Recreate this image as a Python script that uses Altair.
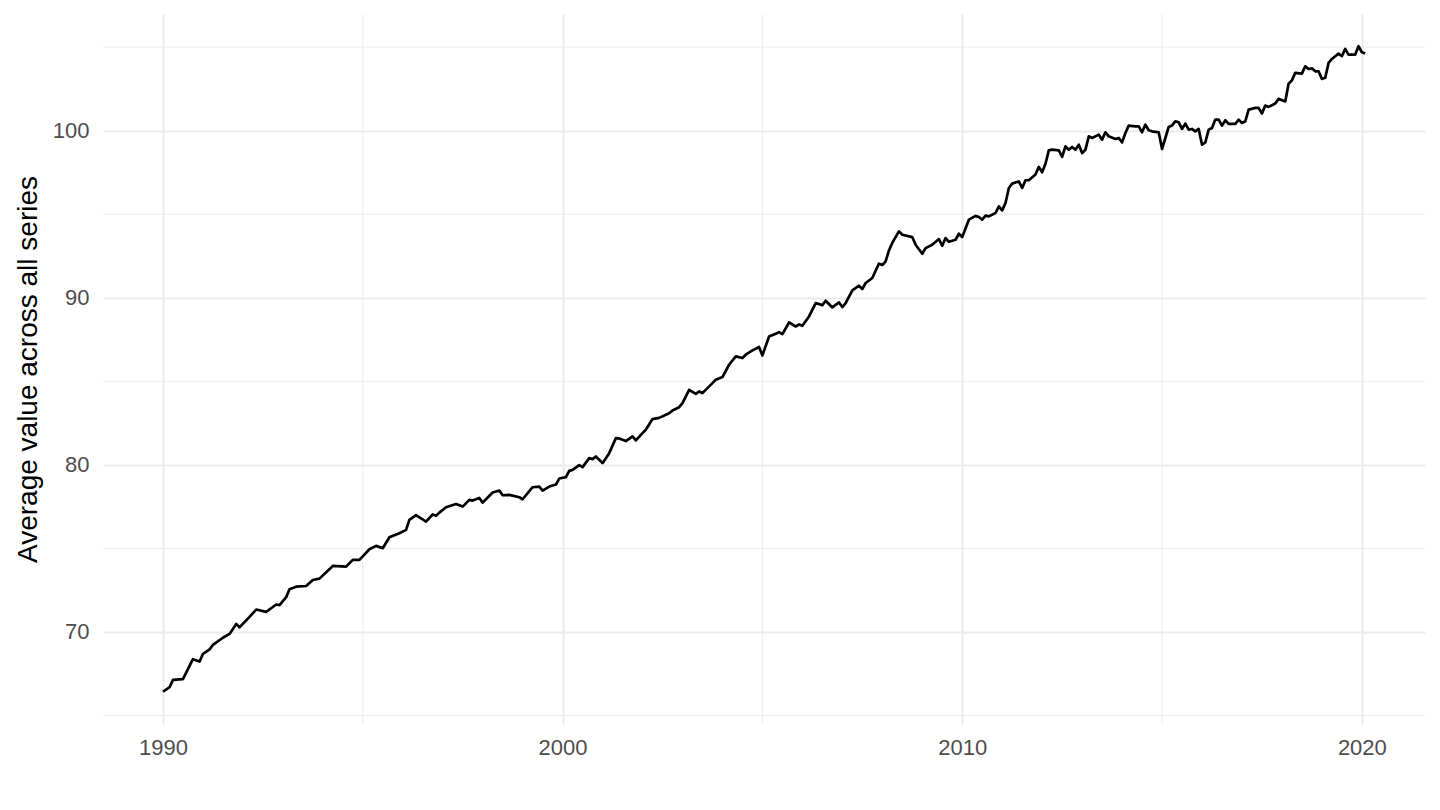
import altair as alt
import pandas as pd

# month index (months since 1990-01) and value
month_idx = [0, 2, 3, 6, 9, 11, 12, 14, 15, 18, 20, 22, 23, 26, 28, 31, 34, 35, 37, 38,
             40, 43, 45, 47, 51, 55, 57, 59, 62, 64, 66, 68, 71, 73, 74, 76, 79, 81, 82, 83,
             85, 88, 90, 92, 93, 95, 96, 99, 101, 102, 104, 107, 108, 111, 113, 114, 116, 118, 119, 121,
             122, 123, 125, 126, 128, 129, 130, 132, 134, 136, 137, 139, 141, 142, 144, 145, 147, 149, 152, 153,
             155, 156, 158, 160, 161, 162, 165, 166, 168, 170, 172, 174, 175, 177, 179, 180, 182, 184, 185, 186,
             188, 190, 191, 192, 194, 196, 198, 199, 201, 203, 204, 205, 207, 209, 210, 211, 213, 215, 216, 217,
             218, 219, 221, 222, 225, 226, 228, 229, 231, 233, 234, 235, 236, 238, 239, 240, 242, 244, 245, 246,
             247, 248, 250, 251, 252, 253, 254, 255, 257, 258, 259, 260, 262, 263, 264, 265, 266, 267, 269, 270,
             271, 272, 273, 274, 275, 276, 277, 278, 279, 281, 282, 283, 284, 286, 287, 288, 289, 290, 292, 293,
             294, 295, 296, 297, 299, 300, 301, 302, 303, 304, 305, 306, 307, 308, 309, 310, 311, 312, 313, 314,
             315, 316, 317, 318, 319, 320, 322, 323, 324, 325, 326, 328, 329, 330, 331, 332, 334, 335, 337, 338,
             339, 340, 342, 343, 344, 345, 346, 347, 348, 349, 350, 351, 352, 353, 354, 355, 356, 358, 359, 360,
             361]
values = [66.42, 66.69, 67.13, 67.17, 68.37, 68.23, 68.68, 68.96, 69.22, 69.65, 69.88, 70.48, 70.28, 70.90, 71.34, 71.20, 71.64, 71.60, 72.08, 72.56,
          72.71, 72.75, 73.11, 73.19, 73.95, 73.91, 74.31, 74.31, 74.95, 75.15, 75.01, 75.67, 75.91, 76.11, 76.71, 76.99, 76.60, 77.03, 76.95, 77.14,
          77.46, 77.66, 77.50, 77.90, 77.86, 78.02, 77.74, 78.34, 78.46, 78.18, 78.20, 78.06, 77.94, 78.66, 78.70, 78.46, 78.70, 78.82, 79.18, 79.26,
          79.64, 79.70, 79.98, 79.86, 80.40, 80.34, 80.50, 80.10, 80.70, 81.60, 81.58, 81.42, 81.70, 81.46, 81.90, 82.10, 82.74, 82.81, 83.09, 83.25,
          83.45, 83.69, 84.49, 84.25, 84.39, 84.29, 84.89, 85.09, 85.25, 85.99, 86.49, 86.39, 86.59, 86.85, 87.05, 86.55, 87.68, 87.84, 87.94, 87.82,
          88.52, 88.28, 88.40, 88.32, 88.88, 89.68, 89.56, 89.82, 89.42, 89.72, 89.44, 89.68, 90.44, 90.72, 90.52, 90.88, 91.18, 92.04, 91.96, 92.17,
          92.83, 93.28, 93.97, 93.77, 93.63, 93.17, 92.63, 92.97, 93.17, 93.51, 93.11, 93.57, 93.35, 93.47, 93.83, 93.63, 94.67, 94.90, 94.83, 94.67,
          94.91, 94.87, 95.07, 95.47, 95.23, 95.67, 96.57, 96.83, 96.96, 96.57, 97.03, 97.03, 97.37, 97.83, 97.51, 98.02, 98.82, 98.86, 98.82, 98.43,
          99.06, 98.86, 99.02, 98.86, 99.16, 98.66, 98.86, 99.66, 99.56, 99.76, 99.46, 99.90, 99.66, 99.50, 99.56, 99.30, 99.86, 100.30, 100.26, 100.26,
          99.90, 100.36, 100.02, 99.96, 99.90, 98.90, 99.56, 100.22, 100.30, 100.56, 100.50, 100.10, 100.42, 100.06, 100.10, 99.96, 100.10, 99.16, 99.30, 100.06,
          100.16, 100.66, 100.66, 100.30, 100.62, 100.40, 100.40, 100.66, 100.46, 100.56, 101.26, 101.36, 101.36, 101.02, 101.50, 101.42, 101.62, 101.90, 101.75, 102.81,
          103.01, 103.46, 103.41, 103.85, 103.69, 103.73, 103.55, 103.55, 103.10, 103.16, 104.05, 104.29, 104.45, 104.61, 104.45, 104.89, 104.55, 104.55, 105.05, 104.69,
          104.61]

major_x = [1990, 2000, 2010, 2020]
minor_x = [1995, 2005, 2015]
major_y = [70, 80, 90, 100]
minor_y = [65, 75, 85, 95, 105]

df = pd.DataFrame({"m": month_idx, "value": values})
df["t"] = 1990 + df["m"] / 12.0

xdom = [1988.5, 2021.58]
ydom = [64.49, 106.98]
FONT = "Liberation Sans"
GRID = "#EBEBEB"
YTITLE = "Average value across all series"

xscale = alt.Scale(domain=xdom, nice=False, zero=False)
yscale = alt.Scale(domain=ydom, nice=False, zero=False)

xaxis = alt.Axis(values=major_x, format="d", grid=True, gridColor=GRID, gridWidth=2,
                 domain=False, ticks=False, labelPadding=13, labelFont=FONT,
                 labelFontSize=22, labelColor="#4D4D4D")
yaxis = alt.Axis(values=major_y, format="d", grid=True, gridColor=GRID, gridWidth=2,
                 domain=False, ticks=False, labelPadding=14, labelFont=FONT,
                 labelFontSize=22, labelColor="#4D4D4D",
                 titleFont=FONT, titleFontSize=28, titleFontWeight="normal",
                 titleColor="black", titlePadding=10)

minor_vx = alt.Chart(pd.DataFrame({"t": minor_x})).mark_rule(color=GRID, strokeWidth=1).encode(
    x=alt.X("t:Q", scale=xscale, title=None, axis=xaxis)
)
minor_hy = alt.Chart(pd.DataFrame({"value": minor_y})).mark_rule(color=GRID, strokeWidth=1).encode(
    y=alt.Y("value:Q", scale=yscale, title=YTITLE, axis=yaxis)
)
line = alt.Chart(df).mark_line(color="black", strokeWidth=2.7, strokeJoin="round").encode(
    x=alt.X("t:Q", scale=xscale, title=None, axis=xaxis),
    y=alt.Y("value:Q", scale=yscale, title=YTITLE, axis=yaxis),
)

chart = alt.layer(minor_vx, minor_hy, line).properties(
    width=1322, height=710,
    autosize=alt.AutoSizeParams(type="none"),
    padding={"left": 95, "top": 6, "right": 7, "bottom": 70},
    background="white",
).configure_view(stroke=None, strokeWidth=0)

chart.save("out.html", embed_options={"renderer": "svg", "actions": False})
